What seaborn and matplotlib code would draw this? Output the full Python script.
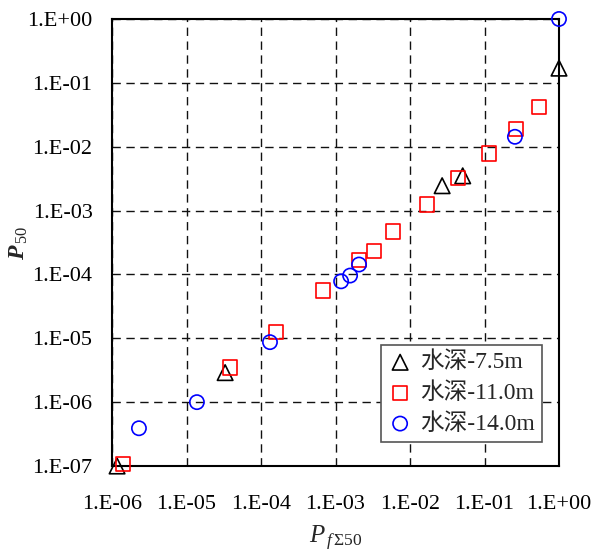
import matplotlib
matplotlib.use("Agg")
import matplotlib.pyplot as plt
import seaborn as sns
import pandas as pd
import numpy as np
from matplotlib.ticker import FixedLocator, FixedFormatter, NullLocator

# ---- data ----
tri_x = [1.17e-6, 3.3e-5, 0.027, 0.051, 1.0]
tri_y = [1.0e-7, 2.9e-6, 2.45e-3, 3.5e-3, 0.17]

sq_x = [1.4e-6, 3.8e-5, 1.6e-4, 6.8e-4, 2.07e-3, 3.3e-3, 5.9e-3, 0.0169, 0.044, 0.115, 0.265, 0.54]
sq_y = [1.07e-7, 3.5e-6, 1.24e-5, 5.6e-5, 1.7e-4, 2.3e-4, 4.7e-4, 1.24e-3, 3.2e-3, 7.8e-3, 0.019, 0.042]

ci_x = [2.3e-6, 1.38e-5, 1.32e-4, 1.19e-3, 1.57e-3, 2.07e-3, 0.256, 1.0]
ci_y = [3.9e-7, 1.0e-6, 8.7e-6, 7.8e-5, 9.6e-5, 1.43e-4, 0.0143, 1.0]

series_labels = ["水深-7.5m", "水深-11.0m", "水深-14.0m"]
x_ticks = [1e-6, 1e-5, 1e-4, 1e-3, 1e-2, 1e-1, 1e0]
x_ticklabels = ["1.E-06", "1.E-05", "1.E-04", "1.E-03", "1.E-02", "1.E-01", "1.E+00"]
y_ticks = [1e-7, 1e-6, 1e-5, 1e-4, 1e-3, 1e-2, 1e-1, 1e0]
y_ticklabels = ["1.E-07", "1.E-06", "1.E-05", "1.E-04", "1.E-03", "1.E-02", "1.E-01", "1.E+00"]

sns.set_style("white")
plt.rcParams['font.family'] = ['Liberation Serif', 'Noto Sans CJK SC', 'DejaVu Sans']
plt.rcParams['mathtext.fontset'] = 'custom'
plt.rcParams['mathtext.rm'] = 'Liberation Serif'
plt.rcParams['mathtext.it'] = 'Liberation Serif:italic'
plt.rcParams['mathtext.bf'] = 'Liberation Serif:bold:italic'

fig = plt.figure(figsize=(5.96, 5.54), dpi=100)
ax = fig.add_axes([112/596, 1-466/554, (559-112)/596, (466-19)/554])

styles = [
    (tri_x, tri_y, '^', 'black', series_labels[0], 125),
    (sq_x, sq_y, 's', 'red', series_labels[1], 105),
    (ci_x, ci_y, 'o', 'blue', series_labels[2], 105),
]
for xs, ys, mk, col, lab, size in styles:
    df = pd.DataFrame({"x": xs, "y": ys})
    sns.scatterplot(data=df, x="x", y="y", marker=mk, s=size, fc='none', ec=col,
                    linewidth=1.2, label=lab, ax=ax, clip_on=False, zorder=3)

ax.set_xscale('log')
ax.set_yscale('log')
ax.set_xlim(1e-6, 1e0)
ax.set_ylim(1e-7, 1e0)
ax.xaxis.set_major_locator(FixedLocator(x_ticks))
ax.xaxis.set_major_formatter(FixedFormatter(x_ticklabels))
ax.yaxis.set_major_locator(FixedLocator(y_ticks))
ax.yaxis.set_major_formatter(FixedFormatter(y_ticklabels))
ax.xaxis.set_minor_locator(NullLocator())
ax.yaxis.set_minor_locator(NullLocator())
ax.tick_params(axis='both', direction='in', length=5, width=1, labelsize=16, colors='black')
ax.tick_params(axis='x', pad=21)
ax.tick_params(axis='y', pad=14)

ax.grid(True, which='major', linestyle=(0, (6, 4)), color='#111111', linewidth=1.0)
for sp in ax.spines.values():
    sp.set_visible(True)
    sp.set_color('black')
    sp.set_linewidth(1.5)

ax.set_xlabel(r'$P_{\,f\,\Sigma\mathrm{50}}$', fontsize=18, labelpad=7)
ax.set_ylabel(r'$\mathbf{P}_{\,\mathrm{50}}$', fontsize=17, labelpad=-2)

leg = ax.legend(loc='lower right', bbox_to_anchor=(0.962, 0.054), fontsize=17,
                frameon=True, fancybox=False, edgecolor='#555555', framealpha=1,
                handletextpad=0.35, handlelength=1.0, borderpad=0.3, labelspacing=0.38,
                borderaxespad=0)
leg.get_frame().set_linewidth(1.2)

fig.savefig("out.png", dpi=100)
